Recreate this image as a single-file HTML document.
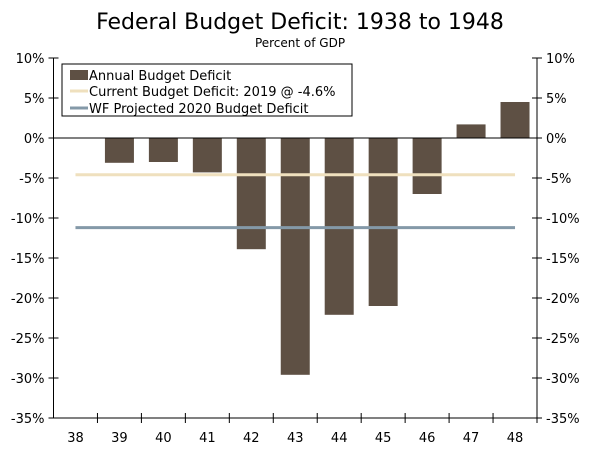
<!DOCTYPE html>
<html><head><meta charset="utf-8"><style>
body{margin:0;background:#fff;font-family:"DejaVu Sans","Liberation Sans",sans-serif;}
svg{display:block}
</style></head><body>
<svg id="c" width="600" height="451">
<text x="300" y="29" text-anchor="middle" font-size="22" fill="#000">Federal Budget Deficit: 1938 to 1948</text>
<text x="300" y="47" text-anchor="middle" font-size="12" fill="#000">Percent of GDP</text>
<g id="g"></g>
</svg>
<script>
const categories=["38","39","40","41","42","43","44","45","46","47","48"];
const deficits=[0,-3.1,-3.0,-4.3,-13.9,-29.6,-22.1,-21.0,-7.0,1.7,4.5];
const currentLine=-4.6;
const projectedLine=-11.2;
const yTicks=[10,5,0,-5,-10,-15,-20,-25,-30,-35];
const L=53.5,R=537,T=58,B=418;
const cw=(R-L)/categories.length;
const y=v=>T+(10-v)*(B-T)/45;
const x=i=>L+cw*(i+0.5);
const g=document.getElementById('g');
const NS='http://www.w3.org/2000/svg';
function mk(t,a){const e=document.createElementNS(NS,t);for(const k in a)e.setAttribute(k,a[k]);g.appendChild(e);return e;}
deficits.forEach((v,i)=>{if(v===0)return;
 const r=mk('rect',{x:x(i)-14.5,y:Math.min(y(v),y(0)),width:29,height:Math.abs(y(v)-y(0)),fill:'#5e5044'});
 
 });
let l1=mk('line',{x1:x(0),x2:x(10),y1:y(currentLine),y2:y(currentLine),stroke:'#efe0be',"stroke-width":3});


let l2=mk('line',{x1:x(0),x2:x(10),y1:y(projectedLine),y2:y(projectedLine),stroke:'#8499a8',"stroke-width":3});


mk('line',{x1:L,x2:R,y1:y(0),y2:y(0),stroke:'#000',"stroke-width":1});
mk('line',{x1:L,x2:L,y1:T,y2:B,stroke:'#000'});
mk('line',{x1:R,x2:R,y1:T,y2:B,stroke:'#000'});
mk('line',{x1:L,x2:R,y1:B,y2:B,stroke:'#000'});
yTicks.forEach(t=>{const yy=y(t);
 mk('line',{x1:L-5,x2:L+5,y1:yy,y2:yy,stroke:'#000'});
 mk('line',{x1:R-5,x2:R+5,y1:yy,y2:yy,stroke:'#000'});
 let a=mk('text',{x:L-9,y:yy+5,"text-anchor":"end","font-size":13});a.textContent=t+'%';
 
 
 let b=mk('text',{x:R+9,y:yy+5,"font-size":13});b.textContent=t+'%';
 
 });
categories.forEach((c,i)=>{
 mk('line',{x1:L+cw*(i+1),x2:L+cw*(i+1),y1:B-5,y2:B+5,stroke:'#000'});
 let t=mk('text',{x:x(i),y:B+24,"text-anchor":"middle","font-size":13});t.textContent=c;
 
 });
const lg=mk('rect',{x:62,y:64,width:290,height:52,fill:'#fff',stroke:'#000'});


mk('rect',{x:70,y:70,width:18,height:10,fill:'#5e5044'});
mk('line',{x1:70,x2:88,y1:91,y2:91,stroke:'#efe0be',"stroke-width":3});
mk('line',{x1:70,x2:88,y1:108,y2:108,stroke:'#8499a8',"stroke-width":3});
[["Annual Budget Deficit",80],["Current Budget Deficit: 2019 @ -4.6%",96],["WF Projected 2020 Budget Deficit",113]].forEach(([s,yy])=>{
 let t=mk('text',{x:89,y:yy,"font-size":13});t.textContent=s;
 
 });
</script>
</body></html>
